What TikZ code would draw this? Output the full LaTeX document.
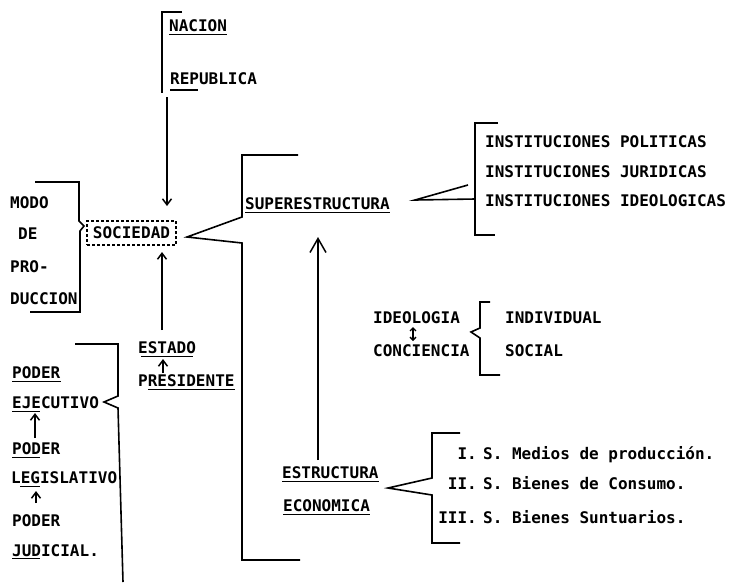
\documentclass[tikz,border=0pt]{standalone}
\usepackage{fontspec}
\setmainfont{DejaVu Sans Mono}
\usetikzlibrary{arrows.meta,calc}
\begin{document}
\begin{tikzpicture}[x=1pt,y=-1pt,
  t/.style={inner sep=0pt,anchor=base west,font=\fontsize{16}{18}\selectfont\bfseries},
  te/.style={t,anchor=base east},
  br/.style={line width=1.6pt,line join=miter},
  ul/.style={line width=1.2pt},
  arr/.style={line width=1.5pt,-{Straight Barb[length=6pt,width=9pt,line width=1.5pt]}},
  bigarr/.style={line width=1.5pt,-{Straight Barb[length=14pt,width=16pt,line width=1.5pt]}},
  dbl/.style={line width=1.3pt,{Straight Barb[length=3pt,width=6pt]}-{Straight Barb[length=3pt,width=6pt]}}]
\useasboundingbox (0,0) rectangle (734,582);
\fill[white] (0,0) rectangle (734,582);

% NACION / REPUBLICA
\node[t] (nac) at (169,31) {NACION};
\node[t] (rep) at (170,84) {REPUBLICA};
\draw[ul] ($(nac.base west)+(0,3.5)$) -- ($(nac.base east)+(0,3.5)$);
\draw[ul] ($(rep.base west)+(0,6)$) -- ++(28,0);
\draw[br] (182,12) -- (162,12) -- (162,93);
\coordinate (nacbot) at (167,97);
\coordinate (soctop) at (167,206);
\draw[arr] (nacbot) -- (soctop);

% SOCIEDAD
\node[draw,dash pattern=on 3pt off 2pt,line width=1.1pt,minimum width=89pt,minimum height=24pt,inner sep=0pt,
  font=\fontsize{16}{18}\selectfont\bfseries] (soc) at (131.5,233) {SOCIEDAD};

% MODO DE PRODUCCION
\node[t] (modo) at (10,208) {MODO};
\node[t] (de) at (18,239) {DE};
\node[t] (pro) at (10,272) {PRO-};
\node[t] (duc) at (10,304) {DUCCION};
\draw[br] (35,182) -- (79,182) -- (79,221) -- (84,226) -- (80,231) -- (80,312) -- (30,312);

% SUPERESTRUCTURA
\draw[br] (298,155) -- (242,155) -- (242,217) -- (187,237) -- (242,243) -- (242,560) -- (300,560);
\node[t] (sup) at (245,209) {SUPERESTRUCTURA};
\draw[ul] ($(sup.base west)+(0,3.5)$) -- ($(sup.base east)+(0,3.5)$);

% arrow up to SOCIEDAD
\coordinate (estop) at (162,330);
\coordinate (socbot) at (162,252);
\draw[arr] (estop) -- (socbot);

% INSTITUCIONES
\draw[br] (498,123) -- (475,123) -- (475,235) -- (495,235);
\draw[br] (468,185) -- (415,200) -- (475,199);
\node[t] (ins1) at (485,147) {INSTITUCIONES POLITICAS};
\node[t] (ins2) at (485,177) {INSTITUCIONES JURIDICAS};
\node[t] (ins3) at (485,206) {INSTITUCIONES IDEOLOGICAS};

% arrow ESTRUCTURA -> SUPERESTRUCTURA
\coordinate (ecotop) at (318,460);
\coordinate (suparr) at (318,237);
\draw[bigarr] (ecotop) -- (suparr);

% IDEOLOGIA / CONCIENCIA
\node[t] (ideo) at (373,323) {IDEOLOGIA};
\node[t] (conc) at (373,356) {CONCIENCIA};
\coordinate (da1) at (413,327);
\coordinate (da2) at (413,341);
\draw[dbl] (da1) -- (da2);
\draw[br] (490,302) -- (480,302) -- (480,328) -- (471,332) -- (480,338) -- (480,375) -- (500,375);
\node[t] (indi) at (505,323) {INDIVIDUAL};
\node[t] (soci) at (505,356) {SOCIAL};

% ESTADO / PRESIDENTE
\node[t] (est) at (138,353) {ESTADO};
\node[t] (pres) at (138,386) {PRESIDENTE};
\draw[ul] ($(est.base west)+(3,3.5)$) -- ($(est.base east)+(-3,3.5)$);
\draw[ul] ($(pres.base west)+(10,3.5)$) -- ($(pres.base east)+(0,3.5)$);
\coordinate (pra) at (163,373);
\coordinate (esa) at (163,359);
\draw[arr] (pra) -- (esa);

% PODER column
\node[t] (p1) at (12,378) {PODER};
\node[t] (eje) at (12,408) {EJECUTIVO};
\node[t] (p2) at (12,454) {PODER};
\node[t] (leg) at (11,483) {LEGISLATIVO};
\node[t] (p3) at (12,526) {PODER};
\node[t] (jud) at (12,556) {JUDICIAL.};
\draw[ul] ($(p1.base west)+(0,3.5)$) -- ($(p1.base east)+(0,3.5)$);
\draw[ul] ($(eje.base west)+(0,3.5)$) -- ++(28,0);
\draw[ul] ($(p2.base west)+(0,3.5)$) -- ++(28,0);
\draw[ul] ($(leg.base west)+(9,3.5)$) -- ++(20,0);
\draw[ul] ($(jud.base west)+(0,2.5)$) -- ++(28,0);
\draw[br] (75,344) -- (118,344) -- (118,396) -- (104,402) -- (118,408) -- (123,582);
\coordinate (la1) at (35,438);
\coordinate (la2) at (35,413);
\draw[arr] (la1) -- (la2);
\coordinate (lb1) at (36,503);
\coordinate (lb2) at (36,491);
\draw[arr] (lb1) -- (lb2);

% ESTRUCTURA ECONOMICA
\node[t] (estr) at (282,478) {ESTRUCTURA};
\node[t] (econ) at (283,511) {ECONOMICA};
\draw[ul] ($(estr.base west)+(0,3.5)$) -- ($(estr.base east)+(0,3.5)$);
\draw[ul] ($(econ.base west)+(0,3.5)$) -- ($(econ.base east)+(0,3.5)$);
\draw[br] (460,433) -- (432,433) -- (432,478) -- (388,488) -- (432,495) -- (432,543) -- (460,543);
\node[te] (r1) at (477,459) {I.};
\node[te] (r2) at (477,489) {II.};
\node[te] (r3) at (477,523) {III.};
\node[t] (s1) at (483,459) {S. Medios de producción.};
\node[t] (s2) at (483,489) {S. Bienes de Consumo.};
\node[t] (s3) at (483,523) {S. Bienes Suntuarios.};
\end{tikzpicture}
\end{document}
